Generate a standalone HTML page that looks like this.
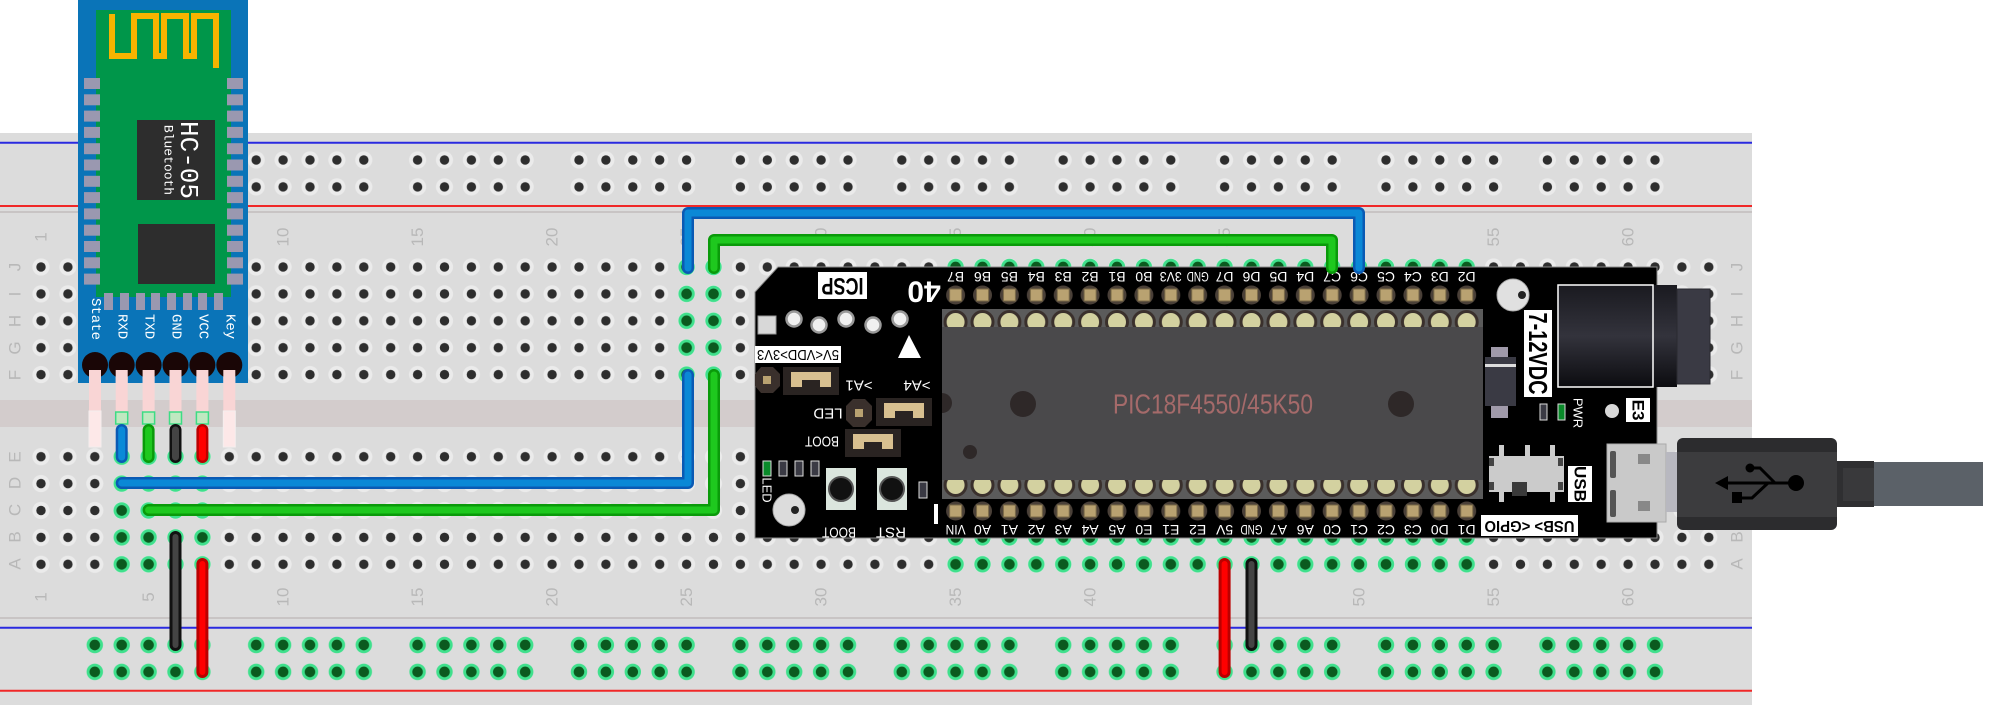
<!DOCTYPE html>
<html><head><meta charset="utf-8"><style>html,body{margin:0;padding:0;background:#fff;}svg{display:block}</style></head>
<body>
<svg width="2001" height="705" viewBox="0 0 2001 705" xmlns="http://www.w3.org/2000/svg" font-family="Liberation Sans, sans-serif">
<defs>
<pattern id="hg" patternUnits="userSpaceOnUse" x="27.55" y="253.55" width="26.9" height="26.9"><circle cx="13.45" cy="13.45" r="8.6" fill="#ebebeb"/><circle cx="13.45" cy="13.45" r="4.7" fill="#2e2e2e"/></pattern>
<pattern id="hg2" patternUnits="userSpaceOnUse" x="27.55" y="443.25" width="26.9" height="26.9"><circle cx="13.45" cy="13.45" r="8.6" fill="#ebebeb"/><circle cx="13.45" cy="13.45" r="4.7" fill="#2e2e2e"/></pattern>
<pattern id="gg" patternUnits="userSpaceOnUse" x="27.55" y="253.55" width="26.9" height="26.9"><circle cx="13.45" cy="13.45" r="8.2" fill="#3fe08c"/><circle cx="13.45" cy="13.45" r="5.3" fill="#0b5a1f"/></pattern>
<pattern id="gg2" patternUnits="userSpaceOnUse" x="27.55" y="443.25" width="26.9" height="26.9"><circle cx="13.45" cy="13.45" r="8.2" fill="#3fe08c"/><circle cx="13.45" cy="13.45" r="5.3" fill="#0b5a1f"/></pattern>
<pattern id="rg" patternUnits="userSpaceOnUse" x="81.35" y="146.55" width="161.4" height="26.9"><g fill="#ebebeb"><circle cx="13.45" cy="13.45" r="8.6"/><circle cx="40.35" cy="13.45" r="8.6"/><circle cx="67.25" cy="13.45" r="8.6"/><circle cx="94.15" cy="13.45" r="8.6"/><circle cx="121.05" cy="13.45" r="8.6"/></g><g fill="#2e2e2e"><circle cx="13.45" cy="13.45" r="4.7"/><circle cx="40.35" cy="13.45" r="4.7"/><circle cx="67.25" cy="13.45" r="4.7"/><circle cx="94.15" cy="13.45" r="4.7"/><circle cx="121.05" cy="13.45" r="4.7"/></g></pattern>
<pattern id="rgg" patternUnits="userSpaceOnUse" x="81.35" y="631.55" width="161.4" height="26.9"><g fill="#3fe08c"><circle cx="13.45" cy="13.45" r="8.2"/><circle cx="40.35" cy="13.45" r="8.2"/><circle cx="67.25" cy="13.45" r="8.2"/><circle cx="94.15" cy="13.45" r="8.2"/><circle cx="121.05" cy="13.45" r="8.2"/></g><g fill="#0b5a1f"><circle cx="13.45" cy="13.45" r="5.3"/><circle cx="40.35" cy="13.45" r="5.3"/><circle cx="67.25" cy="13.45" r="5.3"/><circle cx="94.15" cy="13.45" r="5.3"/><circle cx="121.05" cy="13.45" r="5.3"/></g></pattern>
<pattern id="pin" patternUnits="userSpaceOnUse" x="942.15" y="283" width="26.9" height="24"><circle cx="13.45" cy="12" r="9.5" fill="#4a4038"/><rect x="7.5" y="6" width="12" height="12" fill="#b9a271" stroke="#7a6a48"/></pattern>
<pattern id="pin2" patternUnits="userSpaceOnUse" x="942.15" y="499" width="26.9" height="24"><circle cx="13.45" cy="12" r="9.5" fill="#4a4038"/><rect x="7.5" y="6" width="12" height="12" fill="#b9a271" stroke="#7a6a48"/></pattern>
<pattern id="bump" patternUnits="userSpaceOnUse" x="942.15" y="308" width="26.9" height="30"><circle cx="13.45" cy="14" r="10.5" fill="#d3d1a0" stroke="#3a302c" stroke-width="3"/></pattern>
<pattern id="bump2" patternUnits="userSpaceOnUse" x="942.15" y="471" width="26.9" height="30"><circle cx="13.45" cy="14" r="10.5" fill="#d3d1a0" stroke="#3a302c" stroke-width="3"/></pattern>
<linearGradient id="jack" x1="0" y1="0" x2="0" y2="1"><stop offset="0" stop-color="#1a1a20"/><stop offset="0.5" stop-color="#33333c"/><stop offset="1" stop-color="#0c0c10"/></linearGradient>
</defs>

<!-- breadboard -->
<rect x="0" y="133" width="1752" height="572" fill="#dcdcdc"/>
<line x1="0" y1="142.7" x2="1752" y2="142.7" stroke="#2a2ae0" stroke-width="2"/>
<line x1="0" y1="206" x2="1752" y2="206" stroke="#f02828" stroke-width="2"/>
<line x1="0" y1="212" x2="1752" y2="212" stroke="#c2bcbc" stroke-width="1.5"/>
<rect x="0" y="400" width="1752" height="27" fill="#d3cccc"/>
<line x1="0" y1="618" x2="1752" y2="618" stroke="#c2bcbc" stroke-width="1.5"/>
<line x1="0" y1="627.7" x2="1752" y2="627.7" stroke="#2a2ae0" stroke-width="2"/>
<line x1="0" y1="690.7" x2="1752" y2="690.7" stroke="#f02828" stroke-width="2"/>

<rect x="81.35" y="146.55" width="1614" height="53.8" fill="url(#rg)"/>
<rect x="81.35" y="631.55" width="1614" height="53.8" fill="url(#rgg)"/>
<rect x="27.55" y="253.55" width="1694.7" height="134.5" fill="url(#hg)"/>
<rect x="27.55" y="443.25" width="1694.7" height="134.5" fill="url(#hg2)"/>
<rect x="108.25" y="443.25" width="107.6" height="134.5" fill="url(#gg2)"/>
<rect x="942.15" y="523.95" width="538" height="53.8" fill="url(#gg2)"/>
<rect x="673.15" y="253.55" width="53.8" height="134.5" fill="url(#gg)"/>
<rect x="942.15" y="253.55" width="538" height="26.9" fill="url(#gg)"/>

<!-- labels -->
<g fill="#b8b8b8" font-size="17" text-anchor="middle" dominant-baseline="central">
<text transform="translate(41 237) rotate(-90)">1</text>
<text transform="translate(148.6 237) rotate(-90)">5</text>
<text transform="translate(283.1 237) rotate(-90)">10</text>
<text transform="translate(417.6 237) rotate(-90)">15</text>
<text transform="translate(552.1 237) rotate(-90)">20</text>
<text transform="translate(686.6 237) rotate(-90)">25</text>
<text transform="translate(821.1 237) rotate(-90)">30</text>
<text transform="translate(955.6 237) rotate(-90)">35</text>
<text transform="translate(1090.1 237) rotate(-90)">40</text>
<text transform="translate(1224.6 237) rotate(-90)">45</text>
<text transform="translate(1359.1 237) rotate(-90)">50</text>
<text transform="translate(1493.6 237) rotate(-90)">55</text>
<text transform="translate(1628.1 237) rotate(-90)">60</text>
<text transform="translate(41 597) rotate(-90)">1</text>
<text transform="translate(148.6 597) rotate(-90)">5</text>
<text transform="translate(283.1 597) rotate(-90)">10</text>
<text transform="translate(417.6 597) rotate(-90)">15</text>
<text transform="translate(552.1 597) rotate(-90)">20</text>
<text transform="translate(686.6 597) rotate(-90)">25</text>
<text transform="translate(821.1 597) rotate(-90)">30</text>
<text transform="translate(955.6 597) rotate(-90)">35</text>
<text transform="translate(1090.1 597) rotate(-90)">40</text>
<text transform="translate(1224.6 597) rotate(-90)">45</text>
<text transform="translate(1359.1 597) rotate(-90)">50</text>
<text transform="translate(1493.6 597) rotate(-90)">55</text>
<text transform="translate(1628.1 597) rotate(-90)">60</text>
<text transform="translate(15 267) rotate(-90)">J</text>
<text transform="translate(15 294) rotate(-90)">I</text>
<text transform="translate(15 321) rotate(-90)">H</text>
<text transform="translate(15 348) rotate(-90)">G</text>
<text transform="translate(15 375) rotate(-90)">F</text>
<text transform="translate(15 457) rotate(-90)">E</text>
<text transform="translate(15 483) rotate(-90)">D</text>
<text transform="translate(15 510) rotate(-90)">C</text>
<text transform="translate(15 537) rotate(-90)">B</text>
<text transform="translate(15 564) rotate(-90)">A</text>
<text transform="translate(1737 267) rotate(-90)">J</text>
<text transform="translate(1737 294) rotate(-90)">I</text>
<text transform="translate(1737 321) rotate(-90)">H</text>
<text transform="translate(1737 348) rotate(-90)">G</text>
<text transform="translate(1737 375) rotate(-90)">F</text>
<text transform="translate(1737 457) rotate(-90)">E</text>
<text transform="translate(1737 483) rotate(-90)">D</text>
<text transform="translate(1737 510) rotate(-90)">C</text>
<text transform="translate(1737 537) rotate(-90)">B</text>
<text transform="translate(1737 564) rotate(-90)">A</text>
</g>

<!-- HC-05 module -->
<rect x="78" y="0" width="170" height="383" fill="#0a74b8"/>
<rect x="96" y="10" width="135" height="287" fill="#00964a"/>
<path d="M112,14 V56 H134 V16 H156 V56 H164 V16 H186 V56 H194 V16 H216 V68" fill="none" stroke="#f5b400" stroke-width="6"/>
<g fill="#9a98b0">
<rect x="84" y="78" width="16" height="11"/><rect x="84" y="94.3" width="16" height="11"/><rect x="84" y="110.6" width="16" height="11"/><rect x="84" y="126.9" width="16" height="11"/><rect x="84" y="143.2" width="16" height="11"/><rect x="84" y="159.5" width="16" height="11"/><rect x="84" y="175.8" width="16" height="11"/><rect x="84" y="192.1" width="16" height="11"/><rect x="84" y="208.4" width="16" height="11"/><rect x="84" y="224.7" width="16" height="11"/><rect x="84" y="241" width="16" height="11"/><rect x="84" y="257.3" width="16" height="11"/><rect x="84" y="273.6" width="16" height="11"/>
<rect x="227" y="78" width="16" height="11"/><rect x="227" y="94.3" width="16" height="11"/><rect x="227" y="110.6" width="16" height="11"/><rect x="227" y="126.9" width="16" height="11"/><rect x="227" y="143.2" width="16" height="11"/><rect x="227" y="159.5" width="16" height="11"/><rect x="227" y="175.8" width="16" height="11"/><rect x="227" y="192.1" width="16" height="11"/><rect x="227" y="208.4" width="16" height="11"/><rect x="227" y="224.7" width="16" height="11"/><rect x="227" y="241" width="16" height="11"/><rect x="227" y="257.3" width="16" height="11"/><rect x="227" y="273.6" width="16" height="11"/>
<rect x="104" y="293" width="9" height="17"/><rect x="120" y="293" width="9" height="17"/><rect x="136" y="293" width="9" height="17"/><rect x="151" y="293" width="9" height="17"/><rect x="167" y="293" width="9" height="17"/><rect x="183" y="293" width="9" height="17"/><rect x="198" y="293" width="9" height="17"/><rect x="214" y="293" width="9" height="17"/>
</g>
<rect x="137" y="120" width="78" height="80" fill="#2d2d2d"/>
<rect x="138" y="224" width="77" height="60" fill="#2d2d2d"/>
<g fill="#fff" font-family="Liberation Mono, monospace">
<text transform="translate(188 160) rotate(90)" font-size="26" text-anchor="middle" dominant-baseline="central">HC-05</text>
<text transform="translate(168 160) rotate(90)" font-size="13" text-anchor="middle" dominant-baseline="central">Bluetooth</text>
<g font-size="14" dominant-baseline="central">
<text transform="translate(95 298) rotate(90)">State</text>
<text transform="translate(121.7 314) rotate(90)">RXD</text>
<text transform="translate(148.6 314) rotate(90)">TXD</text>
<text transform="translate(175.5 314) rotate(90)">GND</text>
<text transform="translate(202.4 314) rotate(90)">VCC</text>
<text transform="translate(229.3 314) rotate(90)">Key</text>
</g></g>
<g fill="#f9d5d5">
<rect x="89" y="365" width="12" height="82"/><rect x="223.3" y="365" width="12" height="82"/>
<rect x="115.7" y="365" width="12" height="47"/><rect x="142.6" y="365" width="12" height="47"/><rect x="169.5" y="365" width="12" height="47"/><rect x="196.4" y="365" width="12" height="47"/>
</g>
<rect x="89" y="411" width="12" height="36" fill="#fde8e8" stroke="#f4eeee"/>
<rect x="223.3" y="411" width="12" height="36" fill="#fde8e8" stroke="#f4eeee"/>
<g fill="#bfe8c0" stroke="#3ddc84" stroke-width="1.5">
<rect x="115.7" y="412" width="12" height="12"/><rect x="142.6" y="412" width="12" height="12"/><rect x="169.5" y="412" width="12" height="12"/><rect x="196.4" y="412" width="12" height="12"/>
</g>
<g fill="#1a0606"><circle cx="95" cy="365" r="13"/><circle cx="121.7" cy="365" r="13"/><circle cx="148.6" cy="365" r="13"/><circle cx="175.5" cy="365" r="13"/><circle cx="202.4" cy="365" r="13"/><circle cx="229.3" cy="365" r="13"/></g>
<g fill="#f9d5d5"><rect x="89" y="370" width="12" height="15"/><rect x="115.7" y="370" width="12" height="15"/><rect x="142.6" y="370" width="12" height="15"/><rect x="169.5" y="370" width="12" height="15"/><rect x="196.4" y="370" width="12" height="15"/><rect x="223.3" y="370" width="12" height="15"/></g>
<g fill="none" stroke-linecap="round">
<line x1="121.7" y1="430" x2="121.7" y2="457" stroke="#0a5ab4" stroke-width="12"/><line x1="121.7" y1="430" x2="121.7" y2="457" stroke="#0a8ad8" stroke-width="7"/>
<line x1="148.6" y1="430" x2="148.6" y2="457" stroke="#0a9a0a" stroke-width="12"/><line x1="148.6" y1="430" x2="148.6" y2="457" stroke="#1ec81e" stroke-width="7"/>
<line x1="175.5" y1="430" x2="175.5" y2="457" stroke="#111" stroke-width="12"/><line x1="175.5" y1="430" x2="175.5" y2="457" stroke="#444" stroke-width="7"/>
<line x1="202.4" y1="430" x2="202.4" y2="457" stroke="#b00" stroke-width="12"/><line x1="202.4" y1="430" x2="202.4" y2="457" stroke="#f00" stroke-width="7"/>
</g>

<!-- PIC board -->
<path d="M778,267 H1657 V538 H755 V292 Z" fill="#000" stroke="#8a8a8a" stroke-width="1"/>
<rect x="942" y="309" width="541" height="190" fill="#5b5b5b"/>
<rect x="942" y="308" width="538" height="19" fill="url(#bump)"/>
<rect x="942" y="480" width="538" height="19" fill="url(#bump2)"/>
<rect x="942" y="327" width="541" height="153" fill="#4a494b"/>
<circle cx="1023" cy="404" r="13" fill="#2e2828"/><circle cx="1401" cy="404" r="13" fill="#2e2828"/><circle cx="970" cy="452" r="7" fill="#2e2828"/><path d="M942,393 A10,10 0 0 1 942,413 Z" fill="#2e2828"/>
<text x="1213" y="404" font-size="28" fill="#a56a6a" text-anchor="middle" dominant-baseline="central" textLength="200" lengthAdjust="spacingAndGlyphs">PIC18F4550/45K50</text>
<rect x="942.15" y="283" width="538" height="24" fill="url(#pin)"/>
<rect x="942.15" y="499" width="538" height="24" fill="url(#pin2)"/>
<g fill="#fff" font-size="14" text-anchor="middle" dominant-baseline="central" font-family="Liberation Sans Narrow, Liberation Sans, sans-serif">
<text transform="translate(955.6 277) rotate(180)">B7</text><text transform="translate(982.5 277) rotate(180)">B6</text><text transform="translate(1009.4 277) rotate(180)">B5</text><text transform="translate(1036.3 277) rotate(180)">B4</text><text transform="translate(1063.2 277) rotate(180)">B3</text><text transform="translate(1090.1 277) rotate(180)">B2</text><text transform="translate(1117 277) rotate(180)">B1</text><text transform="translate(1143.9 277) rotate(180)">B0</text><text transform="translate(1170.8 277) rotate(180)" textLength="22" lengthAdjust="spacingAndGlyphs">3V3</text><text transform="translate(1197.7 277) rotate(180)" textLength="22" lengthAdjust="spacingAndGlyphs">GND</text><text transform="translate(1224.6 277) rotate(180)">D7</text><text transform="translate(1251.5 277) rotate(180)">D6</text><text transform="translate(1278.4 277) rotate(180)">D5</text><text transform="translate(1305.3 277) rotate(180)">D4</text><text transform="translate(1332.2 277) rotate(180)">C7</text><text transform="translate(1359.1 277) rotate(180)">C6</text><text transform="translate(1386 277) rotate(180)">C5</text><text transform="translate(1412.9 277) rotate(180)">C4</text><text transform="translate(1439.8 277) rotate(180)">D3</text><text transform="translate(1466.7 277) rotate(180)">D2</text>
<text transform="translate(955.6 530) rotate(180)" textLength="20" lengthAdjust="spacingAndGlyphs">VIN</text><text transform="translate(982.5 530) rotate(180)">A0</text><text transform="translate(1009.4 530) rotate(180)">A1</text><text transform="translate(1036.3 530) rotate(180)">A2</text><text transform="translate(1063.2 530) rotate(180)">A3</text><text transform="translate(1090.1 530) rotate(180)">A4</text><text transform="translate(1117 530) rotate(180)">A5</text><text transform="translate(1143.9 530) rotate(180)">E0</text><text transform="translate(1170.8 530) rotate(180)">E1</text><text transform="translate(1197.7 530) rotate(180)">E2</text><text transform="translate(1224.6 530) rotate(180)">5V</text><text transform="translate(1251.5 530) rotate(180)" textLength="22" lengthAdjust="spacingAndGlyphs">GND</text><text transform="translate(1278.4 530) rotate(180)">A7</text><text transform="translate(1305.3 530) rotate(180)">A6</text><text transform="translate(1332.2 530) rotate(180)">C0</text><text transform="translate(1359.1 530) rotate(180)">C1</text><text transform="translate(1386 530) rotate(180)">C2</text><text transform="translate(1412.9 530) rotate(180)">C3</text><text transform="translate(1439.8 530) rotate(180)">D0</text><text transform="translate(1466.7 530) rotate(180)">D1</text>
</g>
<rect x="818" y="272" width="49" height="27" fill="#fff"/>
<text transform="translate(842.5 285.5) rotate(180)" font-size="24" font-weight="bold" text-anchor="middle" dominant-baseline="central" textLength="42" lengthAdjust="spacingAndGlyphs">ICSP</text>
<text transform="translate(924 291) rotate(180)" font-size="30" font-weight="bold" fill="#fff" text-anchor="middle" dominant-baseline="central">40</text>
<rect x="758" y="316" width="18" height="18" fill="#d8d8d8" stroke="#999"/>
<g fill="#f0f0f0" stroke="#999" stroke-width="2.5"><circle cx="794" cy="319" r="7.5"/><circle cx="819" cy="325" r="7.5"/><circle cx="846" cy="319" r="7.5"/><circle cx="873" cy="325" r="7.5"/><circle cx="900" cy="319" r="7.5"/></g>
<path d="M909,335 L898,358 L921,358 Z" fill="#fff"/>
<rect x="755" y="346" width="86" height="17" fill="#fff"/>
<text transform="translate(798 354.5) rotate(180)" font-size="15" text-anchor="middle" dominant-baseline="central" textLength="82" lengthAdjust="spacingAndGlyphs">5V&lt;VDD&gt;3V3</text>
<polygon points="761,367 773,367 780,374 780,386 773,393 761,393 755,386 755,374" fill="#3a302c"/><rect x="763" y="376" width="8" height="8" fill="#b9a271"/>
<rect x="783" y="367" width="56" height="28" fill="#2a2422"/><path d="M791,372 H831 V387 H820 V380 H802 V387 H791 Z" fill="#d8c090"/>
<g fill="#fff" font-size="15" text-anchor="middle" dominant-baseline="central" font-family="Liberation Sans Narrow, Liberation Sans, sans-serif">
<text transform="translate(859 385) rotate(180)">&gt;A1</text>
<text transform="translate(917 385) rotate(180)">&gt;A4</text>
<text transform="translate(828 413) rotate(180)">LED</text>
<text transform="translate(822 441) rotate(180)" textLength="34" lengthAdjust="spacingAndGlyphs">BOOT</text>
<text transform="translate(839 532) rotate(180)" textLength="34" lengthAdjust="spacingAndGlyphs">BOOT</text>
<text transform="translate(891 532) rotate(180)">RST</text>
<text transform="translate(767 490) rotate(90)" font-size="13">LED</text>
</g>
<polygon points="853,399 865,399 872,406 872,420 865,427 853,427 846,420 846,406" fill="#3a302c"/><rect x="855" y="409" width="8" height="8" fill="#b9a271"/>
<rect x="876" y="398" width="56" height="28" fill="#2a2422"/><path d="M884,403 H924 V418 H913 V411 H895 V418 H884 Z" fill="#d8c090"/>
<rect x="845" y="429" width="56" height="28" fill="#2a2422"/><path d="M853,434 H893 V449 H882 V442 H864 V449 H853 Z" fill="#d8c090"/>
<rect x="763" y="461" width="8" height="15" fill="#0a8a2a" stroke="#ddd"/>
<rect x="779" y="461" width="8" height="15" fill="#3a3a44" stroke="#ddd"/><rect x="795" y="461" width="8" height="15" fill="#3a3a44" stroke="#ddd"/><rect x="811" y="461" width="8" height="15" fill="#3a3a44" stroke="#ddd"/>
<rect x="826" y="468" width="30" height="42" fill="#dbe6de"/><circle cx="841" cy="489" r="12" fill="#111" stroke="#555" stroke-width="2"/>
<rect x="877" y="468" width="30" height="42" fill="#dbe6de"/><circle cx="892" cy="489" r="12" fill="#111" stroke="#555" stroke-width="2"/>
<rect x="919" y="482" width="8" height="16" fill="#3a3a44" stroke="#ddd"/>
<circle cx="789" cy="510" r="16" fill="#dcdcdc" stroke="#aaa"/><circle cx="795" cy="510" r="4" fill="#222"/>
<rect x="934" y="504" width="4" height="20" fill="#fff"/>
<!-- right side -->
<circle cx="1513" cy="295" r="16" fill="#e0e0e0" stroke="#aaa"/><circle cx="1522" cy="295" r="4" fill="#222"/>
<rect x="1524" y="310" width="28" height="87" fill="#fff"/>
<text transform="translate(1538 353.5) rotate(90)" font-size="26" font-weight="bold" text-anchor="middle" dominant-baseline="central" textLength="82" lengthAdjust="spacingAndGlyphs">7-12VDC</text>
<rect x="1558" y="285" width="119" height="102" fill="url(#jack)"/>
<rect x="1558" y="285" width="95" height="102" fill="none" stroke="#fff" stroke-width="1.5"/>
<rect x="1677" y="289" width="33" height="95" fill="#3a3a44" stroke="#2a2a30"/>
<rect x="1491" y="347" width="17" height="12" fill="#a09aaa"/><rect x="1491" y="406" width="17" height="12" fill="#a09aaa"/>
<rect x="1485" y="357" width="31" height="49" fill="#3a3a44"/><rect x="1485" y="364" width="31" height="3" fill="#ddd"/>
<rect x="1540" y="404" width="7" height="16" fill="#3a3a44" stroke="#ddd"/><rect x="1558" y="404" width="7" height="16" fill="#0a8a2a" stroke="#ddd"/>
<text transform="translate(1578 413) rotate(90)" font-size="13" fill="#fff" text-anchor="middle" dominant-baseline="central">PWR</text>
<circle cx="1612" cy="411" r="7" fill="#d8d8d8"/>
<rect x="1626" y="398" width="24" height="24" fill="#fff"/>
<text transform="translate(1638 410) rotate(90)" font-size="17" font-weight="bold" text-anchor="middle" dominant-baseline="central">E3</text>
<g fill="#ccc"><rect x="1499" y="445" width="5" height="12"/><rect x="1525" y="445" width="5" height="12"/><rect x="1550" y="445" width="5" height="12"/><rect x="1499" y="490" width="5" height="12"/><rect x="1550" y="490" width="5" height="12"/></g>
<rect x="1489" y="456" width="75" height="36" fill="#cbcbcb"/><rect x="1489" y="458" width="5" height="8" fill="#444"/><rect x="1558" y="458" width="5" height="8" fill="#444"/><rect x="1489" y="482" width="5" height="8" fill="#444"/><rect x="1558" y="482" width="5" height="8" fill="#444"/>
<rect x="1512" y="482" width="15" height="14" fill="#3a3a3a"/>
<rect x="1568" y="466" width="24" height="36" fill="#fff"/>
<text transform="translate(1580 484) rotate(90)" font-size="17" font-weight="bold" text-anchor="middle" dominant-baseline="central">USB</text>
<rect x="1481" y="515" width="97" height="21" fill="#fff"/>
<text transform="translate(1529.5 525.5) rotate(180)" font-size="16" font-weight="bold" text-anchor="middle" dominant-baseline="central" textLength="90" lengthAdjust="spacingAndGlyphs">USB&gt;  &lt;GPIO</text>
<!-- micro usb -->
<rect x="1607" y="444" width="59" height="78" fill="#c9c9c9" stroke="#aaa"/>
<rect x="1666" y="452" width="11" height="60" fill="#b8b8c0"/>
<rect x="1610" y="451" width="6" height="27" rx="2" fill="#555"/><rect x="1610" y="490" width="6" height="27" rx="2" fill="#555"/>
<rect x="1638" y="454" width="12" height="10" fill="#888"/><rect x="1638" y="501" width="12" height="10" fill="#888"/>
<!-- usb plug -->
<rect x="1677" y="438" width="160" height="92" rx="6" fill="#2c2c2e"/>
<rect x="1677" y="452" width="160" height="65" fill="#3c3c3e"/>
<rect x="1837" y="461" width="37" height="46" fill="#2f2f31"/><rect x="1843" y="468" width="31" height="33" fill="#39393b"/>
<rect x="1874" y="462" width="109" height="44" fill="#5b6168"/>
<g stroke="#000" stroke-width="3" fill="none"><line x1="1722" y1="483" x2="1796" y2="483"/><path d="M1750,468 H1760 L1775,483"/><path d="M1740,498 H1752 L1768,483"/></g>
<path d="M1715,483 L1728,476 L1728,490 Z" fill="#000"/>
<circle cx="1796" cy="483" r="8" fill="#000"/><circle cx="1750" cy="468" r="4.5" fill="#000"/><rect x="1732" y="492" width="10" height="11" fill="#000"/>

<!-- wires -->
<g fill="none" stroke-linecap="round" stroke-linejoin="round">
<path d="M688,268 V213 H1359 V268" stroke="#0a5ab4" stroke-width="12"/><path d="M688,268 V213 H1359 V268" stroke="#0a88d6" stroke-width="7"/>
<path d="M714,268 V240 H1332 V268" stroke="#0a9a0a" stroke-width="12"/><path d="M714,268 V240 H1332 V268" stroke="#1ec81e" stroke-width="7"/>
<path d="M121.7,483 H688 V375" stroke="#0a5ab4" stroke-width="12"/><path d="M121.7,483 H688 V375" stroke="#0a88d6" stroke-width="7"/>
<path d="M148.6,510 H714 V375" stroke="#0a9a0a" stroke-width="12"/><path d="M148.6,510 H714 V375" stroke="#1ec81e" stroke-width="7"/>
<path d="M175.5,537 V645" stroke="#111" stroke-width="12"/><path d="M175.5,537 V645" stroke="#444" stroke-width="6"/>
<path d="M202.4,564 V672" stroke="#b00" stroke-width="12"/><path d="M202.4,564 V672" stroke="#f00" stroke-width="6"/>
<path d="M1224.6,564 V672" stroke="#b00" stroke-width="12"/><path d="M1224.6,564 V672" stroke="#f00" stroke-width="6"/>
<path d="M1251.5,564 V645" stroke="#111" stroke-width="12"/><path d="M1251.5,564 V645" stroke="#444" stroke-width="6"/>
</g>
</svg>
</body></html>
